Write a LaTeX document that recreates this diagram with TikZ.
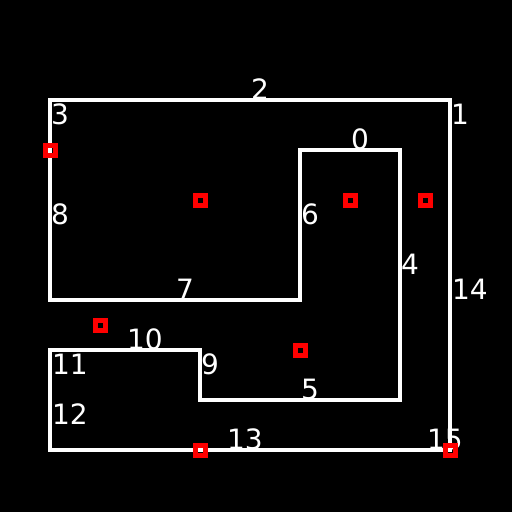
\documentclass[tikz,border=0pt]{standalone}
\usepackage{fontspec}
\setmainfont{DejaVu Sans}
\usepackage{tikz}
\usetikzlibrary{positioning}

\tikzset{
  wall/.style={draw=white,line width=4.5pt,line join=miter},
  marker/.style={draw=red,line width=5pt,rectangle,minimum size=10pt,inner sep=0pt},
  seglabel/.style={text=white,inner sep=0pt,font=\fontsize{28}{30}\selectfont}
}

\begin{document}
\begin{tikzpicture}[x=1pt,y=-1pt]
  % background
  \fill[black] (0,0) rectangle (512,512);
  \useasboundingbox (0,0) rectangle (512,512);
  % outline
  \draw[wall] (50,350)--(200,350)--(200,400)--(400,400)--(400,150)--(300,150)
              --(300,300)--(50,300)--(50,100)--(450,100)--(450,450)--(50,450)--cycle;
  % segment numbers
  \foreach \n/\x/\y in {0/360/139,1/460/114,2/260/89,3/60/114,4/410/264,5/310/389,
                        6/310/214,7/185/289,8/60/214,9/210/364,10/145/339,11/70/364,
                        12/70/414,13/245/439,14/470/289,15/445/439}{
    \node[seglabel] (l\n) at (\x,\y) {\n};
  }
  % sample points
  \foreach \i/\x/\y in {1/50/150,2/200/200,3/350/200,4/425/200,
                        5/100/325,6/300/350,7/200/450,8/450/450}{
    \node[marker] (m\i) at (\x,\y) {};
  }
\end{tikzpicture}
\end{document}
